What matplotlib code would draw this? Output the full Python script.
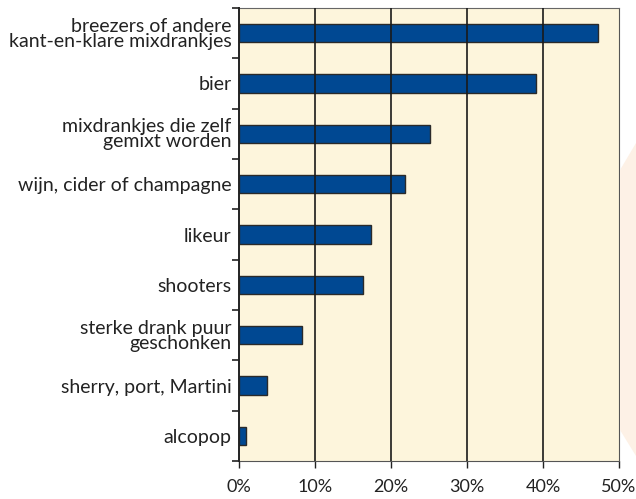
import matplotlib.pyplot as plt
from matplotlib.patches import Polygon
from matplotlib.ticker import FixedLocator, FuncFormatter

categories = [
    'breezers of andere\nkant-en-klare mixdrankjes',
    'bier',
    'mixdrankjes die zelf\ngemixt worden',
    'wijn, cider of champagne',
    'likeur',
    'shooters',
    'sterke drank puur\ngeschonken',
    'sherry, port, Martini',
    'alcopop',
]
values = [47.2, 39.1, 25.1, 21.9, 17.4, 16.3, 8.3, 3.7, 0.9]
xticks = [0, 10, 20, 30, 40, 50]

plt.rcParams['font.family'] = ['Lato', 'DejaVu Sans']

fig = plt.figure(figsize=(6.36, 4.99), dpi=100)
W, H = 636, 499
ax = fig.add_axes([239 / W, 1 - 461 / H, 380 / W, 453 / H])

# faint decorative shape at the right edge
shape = Polygon([(620 / W, 1 - 170 / H), (636 / W, 1 - 143 / H),
                 (636 / W, 1 - 456 / H), (620 / W, 1 - 430 / H)],
                closed=True, transform=fig.transFigure,
                facecolor='#fdf1e6', edgecolor='none', zorder=0)
fig.patches.append(shape)

ax.set_facecolor('#fdf5dc')
pos = list(range(len(categories)))
ax.barh(pos, values, height=0.36, color='#004892', edgecolor='#2a2a2a',
        linewidth=1.0, zorder=2)

ax.set_ylim(len(categories) - 0.5, -0.5)
ax.set_xlim(0, 50)

ax.set_yticks(pos)
ax.set_yticklabels(categories, fontsize=14, color='#222222',
                   linespacing=0.85)
ax.tick_params(axis='y', which='major', length=0, pad=5.5)
ax.yaxis.set_minor_locator(FixedLocator([i + 0.5 for i in range(-1, len(categories))]))
ax.tick_params(axis='y', which='minor', length=5, width=1.2, color='#222222')

ax.set_xticks(xticks)
ax.xaxis.set_major_formatter(FuncFormatter(lambda v, p: f'{int(v)}%'))
ax.tick_params(axis='x', length=5, width=1.0, color='#222222',
               labelsize=13, labelcolor='#222222', pad=8)

for x in xticks[1:-1]:
    ax.axvline(x, color='#1a1a1a', linewidth=1.2, zorder=3)

ax.spines['left'].set_color('#222222')
ax.spines['left'].set_linewidth(1.4)
ax.spines['bottom'].set_color('#555555')
ax.spines['right'].set_color('#555555')
ax.spines['top'].set_color('#666666')
ax.spines['left'].set_zorder(4)

fig.savefig('out.png', dpi=100)
